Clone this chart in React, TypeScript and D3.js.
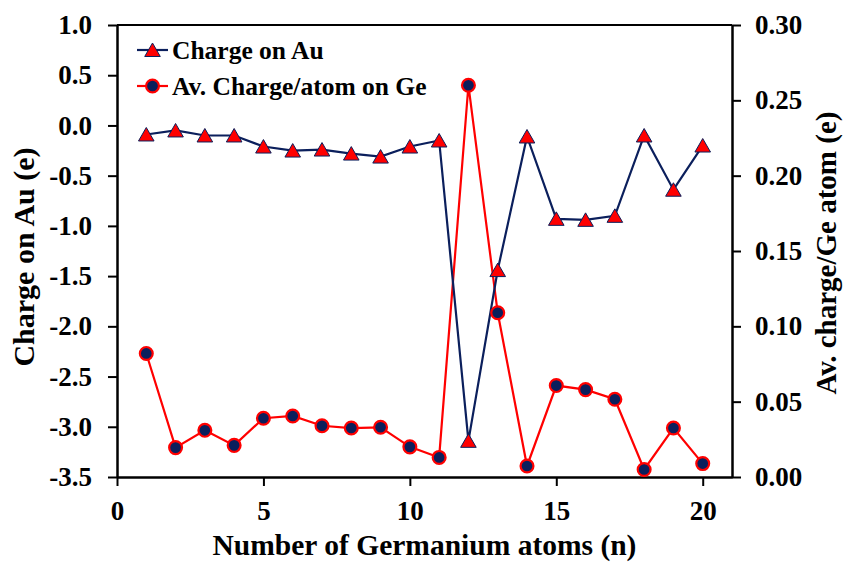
import React, { useEffect, useRef } from "react";
import * as d3 from "d3";

const atoms = [1, 2, 3, 4, 5, 6, 7, 8, 9, 10, 11, 12, 13, 14, 15, 16, 17, 18, 19, 20];
const chargeAu = [
  -0.09, -0.05, -0.1, -0.1, -0.21, -0.25, -0.24, -0.28, -0.31, -0.21,
  -0.15, -3.14, -1.44, -0.11, -0.93, -0.94, -0.9, -0.1, -0.64, -0.2,
];
const chargeGe = [
  0.082, 0.0195, 0.031, 0.021, 0.039, 0.0405, 0.034, 0.0325, 0.033, 0.02,
  0.013, 0.26, 0.109, 0.0073, 0.0607, 0.058, 0.0516, 0.005, 0.0325, 0.0089,
];
const leftTicks = [1.0, 0.5, 0.0, -0.5, -1.0, -1.5, -2.0, -2.5, -3.0, -3.5];
const rightTicks = [0.3, 0.25, 0.2, 0.15, 0.1, 0.05, 0.0];
const xTicks = [0, 5, 10, 15, 20];

const NAVY = "#0b1f5c";
const RED = "#ff0000";
const FONT = "'Liberation Serif', 'Times New Roman', serif";

export default function App() {
  const svgRef = useRef<SVGSVGElement>(null);

  useEffect(() => {
    const w = 845;
    const h = 563;
    const m = { left: 117, right: 113, top: 25, bottom: 86 };
    const svg = d3.select(svgRef.current).attr("width", w).attr("height", h);
    svg.selectAll("*").remove();

    const x = d3.scaleLinear().domain([0, 21]).range([m.left, w - m.right]);
    const yL = d3.scaleLinear().domain([-3.5, 1.0]).range([h - m.bottom, m.top]);
    const yR = d3.scaleLinear().domain([0, 0.3]).range([h - m.bottom, m.top]);

    svg.append("rect").attr("width", w).attr("height", h).attr("fill", "#fff");

    // top frame line
    svg
      .append("line")
      .attr("x1", m.left)
      .attr("x2", w - m.right)
      .attr("y1", m.top)
      .attr("y2", m.top)
      .attr("stroke", "#000")
      .attr("stroke-width", 2);

    const styleAxis = (g: any) => {
      g.select(".domain").attr("stroke-width", 2.5);
      g.selectAll(".tick line").attr("stroke-width", 2);
      g.selectAll(".tick text")
        .attr("font-family", FONT)
        .attr("font-weight", "bold")
        .attr("font-size", 27)
        .attr("fill", "#000");
    };

    svg
      .append("g")
      .attr("transform", `translate(0,${h - m.bottom})`)
      .call(d3.axisBottom(x).tickValues(xTicks).tickSize(9).tickSizeOuter(0).tickPadding(15).tickFormat((d) => String(d)))
      .call(styleAxis);

    svg
      .append("g")
      .attr("transform", `translate(${m.left},0)`)
      .call(d3.axisLeft(yL).tickValues(leftTicks).tickSize(9).tickSizeOuter(0).tickPadding(16).tickFormat((d) => (+d).toFixed(1)))
      .call(styleAxis);

    svg
      .append("g")
      .attr("transform", `translate(${w - m.right},0)`)
      .call(d3.axisRight(yR).tickValues(rightTicks).tickSize(9).tickSizeOuter(0).tickPadding(14).tickFormat((d) => (+d).toFixed(2)))
      .call(styleAxis);

    // Ge series (right axis)
    const lineGe = d3
      .line<number>()
      .x((_, i) => x(atoms[i]))
      .y((d) => yR(d));
    svg
      .append("path")
      .datum(chargeGe)
      .attr("d", lineGe)
      .attr("fill", "none")
      .attr("stroke", RED)
      .attr("stroke-width", 2.2);

    // Au series (left axis)
    const lineAu = d3
      .line<number>()
      .x((_, i) => x(atoms[i]))
      .y((d) => yL(d));
    svg
      .append("path")
      .datum(chargeAu)
      .attr("d", lineAu)
      .attr("fill", "none")
      .attr("stroke", NAVY)
      .attr("stroke-width", 2.2);

    const tri = d3.symbol().type(d3.symbolTriangle).size(105);
    const circ = d3.symbol().type(d3.symbolCircle).size(130);

    svg
      .append("g")
      .selectAll("path")
      .data(chargeGe)
      .join("path")
      .attr("d", circ)
      .attr("transform", (d, i) => `translate(${x(atoms[i])},${yR(d)})`)
      .attr("fill", NAVY)
      .attr("stroke", RED)
      .attr("stroke-width", 2.2);

    svg
      .append("g")
      .selectAll("path")
      .data(chargeAu)
      .join("path")
      .attr("d", tri)
      .attr("transform", (d, i) => `translate(${x(atoms[i])},${yL(d) + 2})`)
      .attr("fill", RED)
      .attr("stroke", NAVY)
      .attr("stroke-width", 1);

    // legend
    const legend = svg.append("g").attr("font-family", FONT).attr("font-weight", "bold").attr("font-size", 25.5);
    const items = [
      { label: "Charge on Au", color: NAVY, mark: tri, fill: RED, stroke: NAVY, sw: 1 },
      { label: "Av. Charge/atom on Ge", color: RED, mark: circ, fill: NAVY, stroke: RED, sw: 2.2 },
    ];
    items.forEach((it, i) => {
      const ly = 50 + i * 36;
      legend
        .append("line")
        .attr("x1", 137)
        .attr("x2", 168)
        .attr("y1", ly)
        .attr("y2", ly)
        .attr("stroke", it.color)
        .attr("stroke-width", 2.2);
      legend
        .append("path")
        .attr("d", it.mark)
        .attr("transform", `translate(152.5,${ly + (i === 0 ? 2 : 0)})`)
        .attr("fill", it.fill)
        .attr("stroke", it.stroke)
        .attr("stroke-width", it.sw);
      legend
        .append("text")
        .attr("x", 172)
        .attr("y", ly + 8.5)
        .attr("fill", "#000")
        .text(it.label);
    });

    // axis titles
    const titles = svg.append("g").attr("font-family", FONT).attr("font-weight", "bold").attr("fill", "#000");
    titles
      .append("text")
      .attr("x", (m.left + w - m.right) / 2)
      .attr("y", 555)
      .attr("font-size", 29.5)
      .attr("text-anchor", "middle")
      .text("Number of Germanium atoms (n)");
    titles
      .append("text")
      .attr("transform", `translate(34,257) rotate(-90)`)
      .attr("font-size", 30)
      .attr("text-anchor", "middle")
      .text("Charge on Au (e)");
    titles
      .append("text")
      .attr("transform", `translate(836,253) rotate(-90)`)
      .attr("font-size", 29)
      .attr("text-anchor", "middle")
      .text("Av. charge/Ge atom (e)");
  }, []);

  return (
    <div style={{ position: "absolute", left: 0, top: 0 }}>
      <svg ref={svgRef} style={{ display: "block" }}></svg>
    </div>
  );
}
